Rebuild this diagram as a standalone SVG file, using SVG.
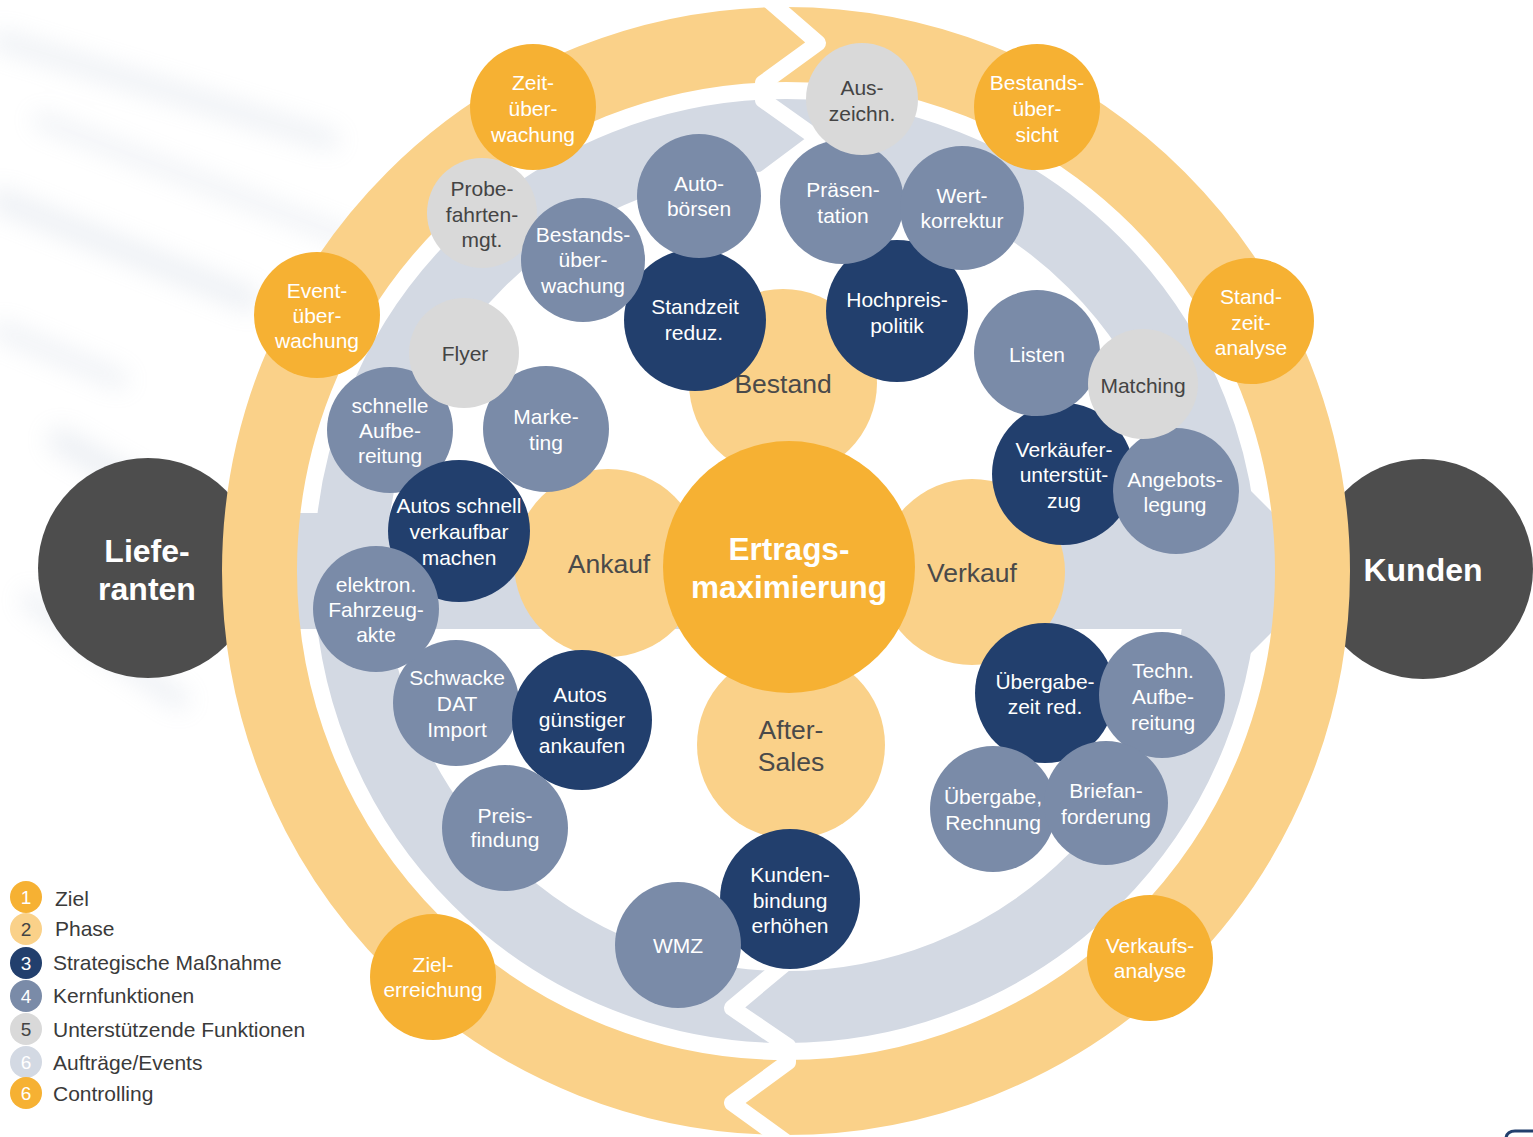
<svg xmlns="http://www.w3.org/2000/svg" width="1533" height="1137" viewBox="0 0 1533 1137">
<defs>
<style>
.ctrl{fill:#F6B133}
.phase{fill:#FAD189}
.strat{fill:#223F6D}
.kern{fill:#7A8BA8}
.supp{fill:#D9D9D9}
.ext{fill:#4D4D4D}
text{font-family:"Liberation Sans",Arial,sans-serif;text-anchor:middle}
.tw{fill:#fff;font-size:21px}
.td{fill:#444;font-size:21px}
.tp{fill:#4a4a4a;font-size:26.5px}
.tb{fill:#fff;font-size:32px;font-weight:bold}
.lg{fill:#3a3a3a;font-size:21px;text-anchor:start}
.ln{font-size:19px}
.gap{fill:none;stroke:#fff;stroke-width:16;stroke-linejoin:round}
</style>
<filter id="blur" x="-30%" y="-30%" width="160%" height="160%"><feGaussianBlur stdDeviation="12"/></filter>
</defs>
<rect width="1533" height="1137" fill="#fff"/>
<g id="photo" filter="url(#blur)" opacity="0.22" stroke="#A9B7CC" stroke-linecap="round" fill="none">
<path d="M0,40 L330,140" stroke-width="18"/>
<path d="M40,120 L380,250" stroke-width="14"/>
<path d="M0,200 L250,300" stroke-width="22"/>
<path d="M0,330 L120,380" stroke-width="16"/>
<path d="M60,440 L200,520" stroke-width="24"/>
<path d="M30,600 L180,700" stroke-width="18"/>
</g>
<g id="lieferanten"><circle class="ext" cx="148" cy="568" r="110"/><text class="tb"><tspan x="147" y="562">Liefe-</tspan><tspan x="147" y="600">ranten</tspan></text></g>
<g id="kunden"><circle class="ext" cx="1423" cy="569" r="110"/><text class="tb" x="1423" y="581">Kunden</text></g>
<g id="connectors">
<circle cx="786" cy="571" r="436" fill="none" stroke="#D3D9E3" stroke-width="72"/>
<path d="M290,513 H1247 V487 L1332,572 L1247,657 V629 H290 Z" fill="#D3D9E3"/>
<circle cx="786" cy="571" r="526.5" fill="none" stroke="#FAD189" stroke-width="75"/>
<polyline class="gap" points="766,-2 818,43 763,83 763,100 818,139 763,180"/>
<polyline class="gap" points="787,962 732,1008 788,1046 788,1062 732,1103 786,1142"/>
</g>
<g id="bestand"><circle class="phase" cx="783" cy="383" r="94"/><text class="tp" x="783" y="393">Bestand</text></g>
<g id="ankauf"><circle class="phase" cx="608" cy="563" r="94"/><text class="tp" x="609" y="573">Ankauf</text></g>
<g id="verkauf"><circle class="phase" cx="972" cy="572" r="93"/><text class="tp" x="972" y="582">Verkauf</text></g>
<g id="aftersales"><circle class="phase" cx="791" cy="745" r="94"/><text class="tp"><tspan x="791" y="739">After-</tspan><tspan x="791" y="771">Sales</tspan></text></g>
<g id="ertrag"><circle class="ctrl" cx="789" cy="567" r="126"/><text style="fill:#fff;font-size:31.5px;font-weight:bold"><tspan x="789" y="560">Ertrags-</tspan><tspan x="789" y="598">maximierung</tspan></text></g>
<g id="probefahrten"><circle class="supp" cx="482" cy="213" r="55"/><text class="td"><tspan x="482" y="196">Probe-</tspan><tspan x="482" y="222">fahrten-</tspan><tspan x="482" y="247">mgt.</tspan></text></g>
<g id="schnelleaufbereitung"><circle class="kern" cx="390" cy="430" r="63"/><text class="tw"><tspan x="390" y="413">schnelle</tspan><tspan x="390" y="438">Aufbe-</tspan><tspan x="390" y="463">reitung</tspan></text></g>
<g id="schwacke"><circle class="kern" cx="456" cy="703" r="63"/><text class="tw"><tspan x="457" y="685">Schwacke</tspan><tspan x="457" y="711">DAT</tspan><tspan x="457" y="737">Import</tspan></text></g>
<g id="standzeitreduz"><circle class="strat" cx="695" cy="320" r="71"/><text class="tw"><tspan x="695" y="314">Standzeit</tspan><tspan x="694" y="340">reduz.</tspan></text></g>
<g id="hochpreis"><circle class="strat" cx="897" cy="311" r="71"/><text class="tw"><tspan x="897" y="307">Hochpreis-</tspan><tspan x="897" y="333">politik</tspan></text></g>
<g id="verkaeufer"><circle class="strat" cx="1063" cy="474" r="71"/><text class="tw"><tspan x="1064" y="457">Verkäufer-</tspan><tspan x="1064" y="482">unterstüt-</tspan><tspan x="1064" y="508">zug</tspan></text></g>
<g id="autosschnell"><circle class="strat" cx="459" cy="531" r="71"/><text class="tw"><tspan x="459" y="513">Autos schnell</tspan><tspan x="459" y="539">verkaufbar</tspan><tspan x="459" y="565">machen</tspan></text></g>
<g id="autosguenstiger"><circle class="strat" cx="582" cy="720" r="70"/><text class="tw"><tspan x="580" y="702">Autos</tspan><tspan x="582" y="727">günstiger</tspan><tspan x="582" y="753">ankaufen</tspan></text></g>
<g id="uebergabezeit"><circle class="strat" cx="1045" cy="693" r="70"/><text class="tw"><tspan x="1045" y="689">Übergabe-</tspan><tspan x="1045" y="714">zeit red.</tspan></text></g>
<g id="kundenbindung"><circle class="strat" cx="790" cy="899" r="70"/><text class="tw"><tspan x="790" y="882">Kunden-</tspan><tspan x="790" y="908">bindung</tspan><tspan x="790" y="933">erhöhen</tspan></text></g>
<g id="autoboersen"><circle class="kern" cx="699" cy="196" r="62"/><text class="tw"><tspan x="699" y="191">Auto-</tspan><tspan x="699" y="216">börsen</tspan></text></g>
<g id="bestandsueberwachung"><circle class="kern" cx="583" cy="260" r="62"/><text class="tw"><tspan x="583" y="242">Bestands-</tspan><tspan x="583" y="267">über-</tspan><tspan x="583" y="293">wachung</tspan></text></g>
<g id="praesentation"><circle class="kern" cx="842" cy="202" r="62"/><text class="tw"><tspan x="843" y="197">Präsen-</tspan><tspan x="843" y="223">tation</tspan></text></g>
<g id="wertkorrektur"><circle class="kern" cx="962" cy="208" r="62"/><text class="tw"><tspan x="962" y="203">Wert-</tspan><tspan x="962" y="228">korrektur</tspan></text></g>
<g id="listen"><circle class="kern" cx="1037" cy="353" r="63"/><text class="tw" x="1037" y="362">Listen</text></g>
<g id="angebotslegung"><circle class="kern" cx="1176" cy="491" r="63"/><text class="tw"><tspan x="1175" y="487">Angebots-</tspan><tspan x="1175" y="512">legung</tspan></text></g>
<g id="marketing"><circle class="kern" cx="546" cy="429" r="63"/><text class="tw"><tspan x="546" y="424">Marke-</tspan><tspan x="546" y="450">ting</tspan></text></g>
<g id="fahrzeugakte"><circle class="kern" cx="376" cy="609" r="63"/><text class="tw"><tspan x="376" y="592">elektron.</tspan><tspan x="376" y="617">Fahrzeug-</tspan><tspan x="376" y="642">akte</tspan></text></g>
<g id="preisfindung"><circle class="kern" cx="505" cy="828" r="63"/><text class="tw"><tspan x="505" y="823">Preis-</tspan><tspan x="505" y="847">findung</tspan></text></g>
<g id="technaufbereitung"><circle class="kern" cx="1162" cy="695" r="63"/><text class="tw"><tspan x="1163" y="678">Techn.</tspan><tspan x="1163" y="704">Aufbe-</tspan><tspan x="1163" y="730">reitung</tspan></text></g>
<g id="uebergaberechnung"><circle class="kern" cx="993" cy="809" r="63"/><text class="tw"><tspan x="993" y="804">Übergabe,</tspan><tspan x="993" y="830">Rechnung</tspan></text></g>
<g id="briefanforderung"><circle class="kern" cx="1106" cy="803" r="62"/><text class="tw"><tspan x="1106" y="798">Briefan-</tspan><tspan x="1106" y="824">forderung</tspan></text></g>
<g id="wmz"><circle class="kern" cx="678" cy="945" r="63"/><text class="tw" x="678" y="953">WMZ</text></g>
<g id="auszeichn"><circle class="supp" cx="862" cy="99" r="56"/><text class="td"><tspan x="862" y="95">Aus-</tspan><tspan x="862" y="121">zeichn.</tspan></text></g>
<g id="flyer"><circle class="supp" cx="464" cy="353" r="55"/><text class="td" x="465" y="361">Flyer</text></g>
<g id="matching"><circle class="supp" cx="1143" cy="384" r="55"/><text class="td" x="1143" y="393">Matching</text></g>
<g id="zeitueberwachung"><circle class="ctrl" cx="533" cy="107" r="63"/><text class="tw"><tspan x="533" y="90">Zeit-</tspan><tspan x="533" y="116">über-</tspan><tspan x="533" y="142">wachung</tspan></text></g>
<g id="bestandsuebersicht"><circle class="ctrl" cx="1037" cy="107" r="63"/><text class="tw"><tspan x="1037" y="90">Bestands-</tspan><tspan x="1037" y="116">über-</tspan><tspan x="1037" y="142">sicht</tspan></text></g>
<g id="eventueberwachung"><circle class="ctrl" cx="317" cy="315" r="63"/><text class="tw"><tspan x="317" y="298">Event-</tspan><tspan x="317" y="323">über-</tspan><tspan x="317" y="348">wachung</tspan></text></g>
<g id="standzeitanalyse"><circle class="ctrl" cx="1251" cy="321" r="63"/><text class="tw"><tspan x="1251" y="304">Stand-</tspan><tspan x="1251" y="330">zeit-</tspan><tspan x="1251" y="355">analyse</tspan></text></g>
<g id="zielerreichung"><circle class="ctrl" cx="433" cy="977" r="63"/><text class="tw"><tspan x="433" y="972">Ziel-</tspan><tspan x="433" y="997">erreichung</tspan></text></g>
<g id="verkaufsanalyse"><circle class="ctrl" cx="1150" cy="958" r="63"/><text class="tw"><tspan x="1150" y="953">Verkaufs-</tspan><tspan x="1150" y="978">analyse</tspan></text></g>
<g id="legend">
<circle cx="26" cy="897" r="16" fill="#F6B133"/><text class="ln" x="26" y="904" fill="#fff">1</text><text class="lg" x="55" y="906">Ziel</text>
<circle cx="26" cy="929" r="16" fill="#FAD189"/><text class="ln" x="26" y="936" fill="#444">2</text><text class="lg" x="55" y="936">Phase</text>
<circle cx="26" cy="963" r="16" fill="#223F6D"/><text class="ln" x="26" y="970" fill="#fff">3</text><text class="lg" x="53" y="970">Strategische Maßnahme</text>
<circle cx="26" cy="996" r="16" fill="#7A8BA8"/><text class="ln" x="26" y="1003" fill="#fff">4</text><text class="lg" x="53" y="1003">Kernfunktionen</text>
<circle cx="26" cy="1029" r="16" fill="#D9D9D9"/><text class="ln" x="26" y="1036" fill="#444">5</text><text class="lg" x="53" y="1037">Unterstützende Funktionen</text>
<circle cx="26" cy="1062" r="16" fill="#D3D9E3"/><text class="ln" x="26" y="1069" fill="#fff">6</text><text class="lg" x="53" y="1070">Aufträge/Events</text>
<circle cx="26" cy="1093" r="16" fill="#F6B133"/><text class="ln" x="26" y="1100" fill="#fff">6</text><text class="lg" x="53" y="1101">Controlling</text>
</g>
<path d="M1506,1138 Q1507,1131 1515,1131 L1534,1131" fill="none" stroke="#223F6D" stroke-width="3"/>
</svg>
